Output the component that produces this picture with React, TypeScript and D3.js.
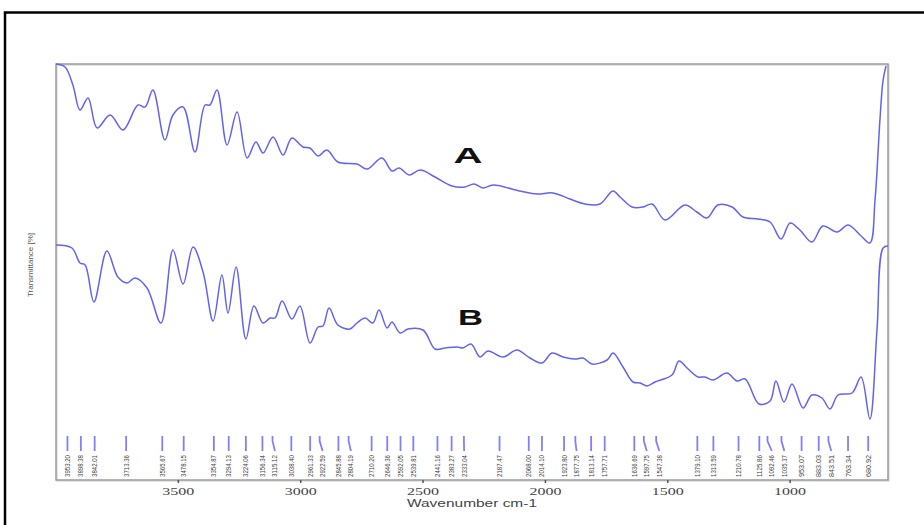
import React from "react";
import * as d3 from "d3";

// Spectrum A (wavenumber cm-1, transmittance arbitrary %)
const waveA = [4000, 3963, 3931, 3902, 3869, 3832, 3779, 3726, 3665, 3636, 3604, 3555, 3522, 3481, 3432, 3391, 3371, 3342, 3301, 3260, 3219, 3183, 3154, 3113, 3072, 3036, 2991, 2962, 2929, 2893, 2848, 2770, 2729, 2668, 2627, 2598, 2557, 2512, 2451, 2382, 2329, 2292, 2255, 2214, 2104, 2034, 1969, 1900, 1838, 1777, 1724, 1695, 1646, 1601, 1564, 1511, 1430, 1381, 1340, 1295, 1237, 1193, 1131, 1082, 1037, 1000, 960, 911, 866, 808, 763, 714, 674, 653, 633, 620, 608];
const transA = [104, 103.25, 98.75, 92.5, 95.5, 88, 91.25, 87.5, 93.75, 93.25, 97.5, 85, 91.25, 93.25, 82, 93.75, 93.75, 97.5, 83.75, 92, 80.5, 84.5, 81.75, 85.75, 81.25, 85.5, 83.25, 83, 81, 82.5, 79.5, 79, 77.75, 80.5, 77.25, 78, 76.25, 77.5, 75.75, 73.5, 73.25, 74, 73, 73.75, 72.25, 71.5, 71.75, 70.25, 69, 69, 72.25, 70.75, 68.25, 68.25, 69, 65, 68.75, 67, 65.5, 68.75, 68.25, 65.75, 65.25, 64.5, 60.25, 64.25, 62.5, 59.5, 63.5, 62, 63.75, 61.25, 59.25, 70, 90, 100, 103.5];

// Spectrum B
const waveB = [4000, 3935, 3902, 3881, 3845, 3792, 3747, 3710, 3677, 3628, 3571, 3522, 3481, 3440, 3399, 3358, 3322, 3297, 3264, 3224, 3191, 3154, 3125, 3105, 3076, 3036, 3003, 2962, 2929, 2909, 2884, 2848, 2799, 2770, 2737, 2705, 2680, 2647, 2627, 2594, 2562, 2500, 2451, 2410, 2361, 2337, 2304, 2267, 2235, 2173, 2116, 2063, 2014, 1973, 1928, 1879, 1846, 1810, 1748, 1724, 1683, 1642, 1613, 1585, 1552, 1483, 1454, 1421, 1376, 1348, 1315, 1258, 1217, 1184, 1127, 1082, 1058, 1025, 992, 947, 911, 870, 837, 804, 747, 710, 674, 645, 620, 600];
const transB = [58.75, 58, 54.25, 53.75, 44.5, 57.25, 50.75, 49.25, 50.5, 48, 39.25, 57.5, 49, 58.25, 52, 39.75, 51.25, 41.75, 53.25, 35.25, 43.5, 39.25, 40.5, 40.5, 44.75, 40.25, 43.5, 34.25, 38.25, 38.5, 43, 38.75, 37.75, 39.25, 40.5, 39.25, 42.5, 38, 39.5, 36.75, 37.75, 37.5, 32.75, 33, 33.25, 33, 34, 30.75, 32.25, 30.75, 32.5, 30.5, 29.25, 31.75, 30.75, 30.25, 30.5, 29, 30, 31.75, 28.25, 24.5, 24.25, 23.5, 24.5, 26.25, 29.75, 28, 25.75, 25.75, 25, 26.75, 24.75, 25.25, 19, 19.75, 24.75, 19.5, 24, 18, 21.25, 20.5, 17.75, 21.25, 21.75, 25.75, 15.25, 37.5, 58, 58.5];

// Peak markers
const peakLabels = ["3953.20", "3898.38", "3842.01", "3713.36", "3565.67", "3478.15", "3354.87", "3294.13", "3224.06", "3156.34", "3115.12", "3038.40", "2961.33", "2922.59", "2845.88", "2804.19", "2710.20", "2646.36", "2592.05", "2539.81", "2441.16", "2383.27", "2333.04", "2187.47", "2068.00", "2014.10", "1923.80", "1877.75", "1813.14", "1757.71", "1636.69", "1597.75", "1547.38", "1379.10", "1313.59", "1210.78", "1125.86", "1092.46", "1035.37", "953.07", "883.03", "843.51", "763.34", "680.92"];

const tickValues = [3500, 3000, 2500, 2000, 1500, 1000];
const tickLabels = ["3500", "3000", "2500", "2000", "1500", "1000"];

const seriesNames = ["A", "B"];

export default function App() {
  const W = 924, H = 525;
  const left = 56, right = 888, top = 64, bottom = 480;
  const x = d3.scaleLinear().domain([4000, 600]).range([left, right]);
  const y = d3.scaleLinear().domain([0, 104]).range([bottom, top]);
  const line = d3
    .line<[number, number]>()
    .x((d) => x(d[0]))
    .y((d) => y(d[1]))
    .curve(d3.curveCatmullRom.alpha(0.5));
  const dataA = waveA.map((w, i) => [w, transA[i]] as [number, number]);
  const dataB = waveB.map((w, i) => [w, transB[i]] as [number, number]);

  const peaks = peakLabels.map((s) => parseFloat(s));
  const labelX: number[] = [];
  peaks.forEach((p, i) => {
    const tx = x(p);
    labelX.push(i === 0 ? tx : Math.max(tx, labelX[i - 1] + 12.5));
  });

  const blue = "#6262f4";
  return (
    <svg
      width={W}
      height={H}
      style={{ position: "absolute", left: 0, top: 0, background: "#fff" }}
    >
      <rect x={5} y={12.5} width={W + 10} height={H + 10} fill="#fff" stroke="#000" strokeWidth={2.5} />
      <rect x={left + 1} y={top + 1} width={right - left} height={bottom - top} fill="none" stroke="#ddd" strokeWidth={1.5} />
      <rect x={left} y={top} width={right - left} height={bottom - top} fill="none" stroke="#9a9a9a" strokeWidth={1.5} />
      <path d={line(dataA) || ""} fill="none" stroke={blue} strokeWidth={1.5} />
      <path d={line(dataB) || ""} fill="none" stroke={blue} strokeWidth={1.5} />
      <text x={468} y={163} fontFamily="Liberation Sans, Arial, sans-serif" fontWeight="bold" fontSize={22} textAnchor="middle" textLength={29} lengthAdjust="spacingAndGlyphs" fill="#111">
        {seriesNames[0]}
      </text>
      <text x={470.5} y={325} fontFamily="Liberation Sans, Arial, sans-serif" fontWeight="bold" fontSize={22} textAnchor="middle" textLength={25} lengthAdjust="spacingAndGlyphs" fill="#111">
        {seriesNames[1]}
      </text>
      {peaks.map((p, i) => (
        <g key={i}>
          <path d={`M${x(p)},436 L${x(p)},441 L${labelX[i]},451`} fill="none" stroke="#8080ff" strokeWidth={1.8} />
          <text
            transform={`translate(${labelX[i] + 2.5},477) rotate(-90)`}
            fontFamily="Liberation Sans, Arial, sans-serif"
            fontSize={7}
            fill="#444"
            textLength={22}
            lengthAdjust="spacingAndGlyphs"
          >
            {peakLabels[i]}
          </text>
        </g>
      ))}
      {tickValues.map((t, i) => (
        <g key={t}>
          <line x1={x(t)} x2={x(t)} y1={bottom} y2={bottom + 3} stroke="#555" strokeWidth={1.5} />
          <text x={x(t)} y={495} fontFamily="Liberation Serif, Times New Roman, serif" fontSize={10} textAnchor="middle" textLength={32} lengthAdjust="spacingAndGlyphs" fill="#444">
            {tickLabels[i]}
          </text>
        </g>
      ))}
      <text x={472} y={507} fontFamily="Liberation Sans, Arial, sans-serif" fontSize={10.5} textAnchor="middle" textLength={130} lengthAdjust="spacingAndGlyphs" fill="#444">
        Wavenumber cm-1
      </text>
      <text transform="translate(33,265) rotate(-90)" fontFamily="Liberation Sans, Arial, sans-serif" fontSize={7} textAnchor="middle" textLength={64} lengthAdjust="spacingAndGlyphs" fill="#555">
        Transmittance [%]
      </text>
    </svg>
  );
}
